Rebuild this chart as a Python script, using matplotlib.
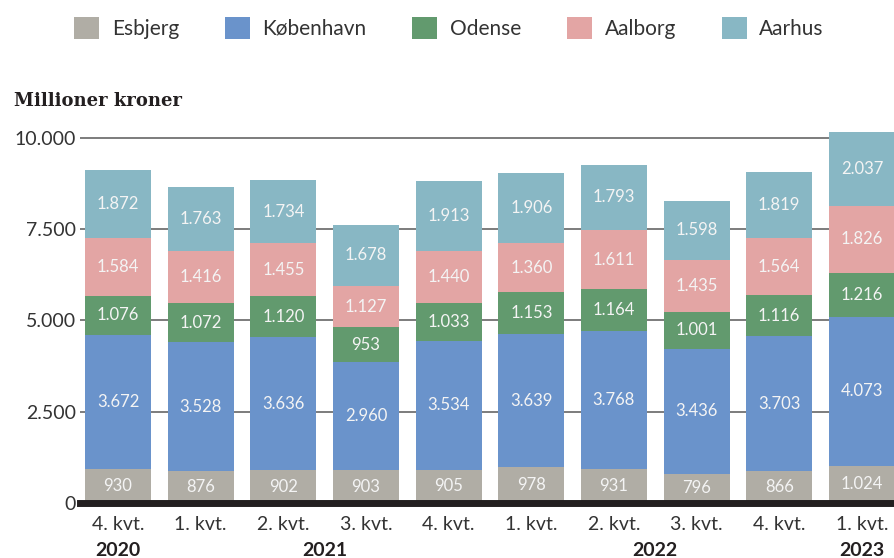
import numpy as np
import matplotlib.pyplot as plt
from matplotlib.patches import Patch

quarters = ["4. kvt.", "1. kvt.", "2. kvt.", "3. kvt.", "4. kvt.",
            "1. kvt.", "2. kvt.", "3. kvt.", "4. kvt.", "1. kvt."]
years = ["2020", "2021", "2022", "2023"]
year_pos = [0, 2.5, 6.5, 9]

cities = ["Esbjerg", "København", "Odense", "Aalborg", "Aarhus"]
esbjerg = [930, 876, 902, 903, 905, 978, 931, 796, 866, 1024]
kobenhavn = [3672, 3528, 3636, 2960, 3534, 3639, 3768, 3436, 3703, 4073]
odense = [1076, 1072, 1120, 953, 1033, 1153, 1164, 1001, 1116, 1216]
aalborg = [1584, 1416, 1455, 1127, 1440, 1360, 1611, 1435, 1564, 1826]
aarhus = [1872, 1763, 1734, 1678, 1913, 1906, 1793, 1598, 1819, 2037]

colors = ["#b0ada5", "#6a93cb", "#629a6e", "#e3a5a4", "#88b7c4"]

plt.rcParams['font.family'] = ['Lato', 'DejaVu Sans']


def fmt(v):
    return f"{v:,}".replace(",", ".")


fig = plt.figure(figsize=(8.95, 5.58), dpi=100)
ax = fig.add_axes([80 / 895, 55 / 558, 815 / 895, (503 - 127) / 558])

x = np.arange(len(quarters))
bottom = np.zeros(len(quarters))
for series, col in zip([esbjerg, kobenhavn, odense, aalborg, aarhus], colors):
    vals = np.array(series)
    ax.bar(x, vals, 0.8, bottom=bottom, color=col, zorder=2)
    for xi, b, v in zip(x, bottom, vals):
        ax.text(xi, b + v / 2, fmt(int(v)), ha="center", va="center",
                color="#f4f4f4", fontsize=12, zorder=3)
    bottom += vals

ax.set_xlim(-0.46, 9.4)
ax.set_ylim(0, 10300)
yt = [0, 2500, 5000, 7500, 10000]
ax.set_yticks(yt)
ax.set_yticklabels([fmt(v) for v in yt], fontsize=14, color="#333333")
ax.tick_params(axis="y", length=0, pad=3)
for v in yt[1:]:
    ax.axhline(v, color="#666666", lw=1.2, zorder=1)
ax.axhline(0, color="#231f20", lw=5, zorder=4, clip_on=False)

ax.set_xticks(x)
ax.set_xticklabels(quarters, fontsize=14, color="#333333")
ax.tick_params(axis="x", length=0, pad=9)
for yr, p in zip(years, year_pos):
    ax.text(p, -0.125, yr, transform=ax.get_xaxis_transform(), ha="center",
            va="center", fontsize=14, fontweight="bold", color="#231f20")

for s in ax.spines.values():
    s.set_visible(False)

fig.text(14 / 895, 1 - 101 / 558, "Millioner kroner", fontsize=13,
         fontweight="heavy", family="DejaVu Serif", color="#231f20", va="center")

handles = [Patch(facecolor=c, edgecolor="none") for c in colors]
fig.legend(handles, cities, loc="center", bbox_to_anchor=(449 / 895, 1 - 28 / 558),
           ncol=5, frameon=False, fontsize=15, handlelength=1.2, handleheight=1.2,
           columnspacing=2.2, handletextpad=0.6, labelcolor="#333333")

fig.savefig("out.png", dpi=100)
